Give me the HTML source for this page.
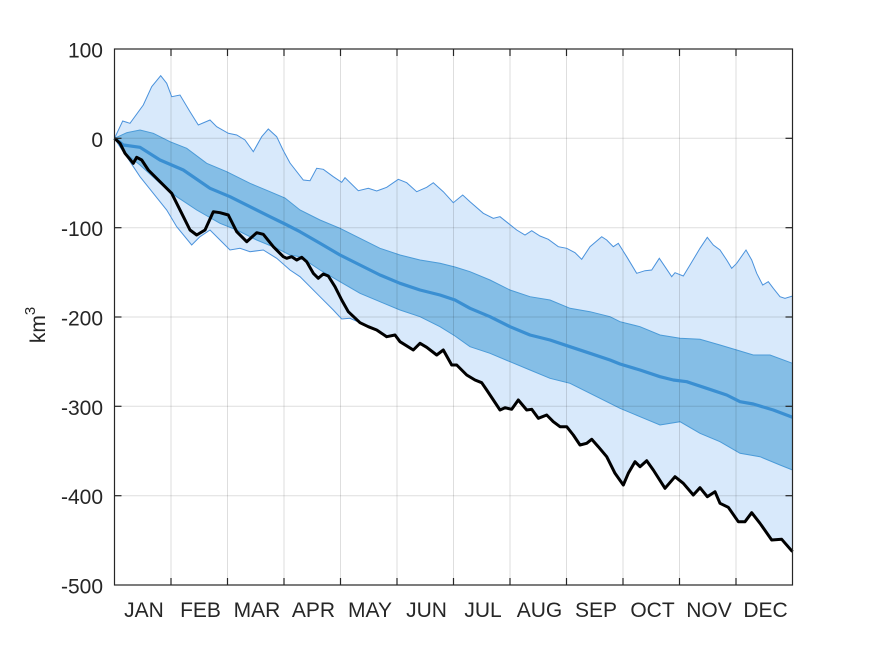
<!DOCTYPE html>
<html><head><meta charset="utf-8"><style>
html,body{margin:0;padding:0;background:#fff;}
svg{display:block;}
text{font-family:"Liberation Sans",Arial,sans-serif;fill:#262626;}
</style></head><body>
<svg width="875" height="656" viewBox="0 0 875 656" xmlns="http://www.w3.org/2000/svg">
<rect x="0" y="0" width="875" height="656" fill="#fff"/>
<!-- light band -->
<polygon fill="#d8e9fb" stroke="none" points="114.5,138.3 122.7,121 130,123.3 143.3,105 151.7,86.7 160.7,75.7 166.7,83.3 171.7,96.7 180,95 190,111.7 198.3,125 210,120 216.7,126.7 228.3,133.3 236.7,135 245,140 253.3,151.7 261.7,136.7 268.3,129 276.7,136.7 283,150 290,163 303.3,180 310,180.7 316.7,168.3 323.3,169.3 333.3,176.7 341.7,182.3 345,177.7 358.3,190.7 368.3,188.3 376.7,191 386.7,187.3 398.3,179.3 406.7,182.7 416.7,191.7 426.7,187.3 433.3,182.7 443.3,191.7 453.3,202.7 462.7,195 470,201.7 483.3,213.3 493.3,218.3 500,216.7 508.3,223.3 516.7,230 525,235 531.7,230.7 540,236 548.3,239.3 558.3,246.7 566.7,248.3 575,252.7 581.7,259.3 590,246.7 601.7,236.7 606.7,240 613.3,246.7 618.3,243.3 626.7,256.7 636.7,273.3 645,270.7 651.7,270 659.3,258.3 665,266.7 671.7,276.7 675,272.7 683.3,276 690,265 700,248.3 707.3,237.3 713.3,245 720,250 726.7,260 731.7,268.3 736.7,263.3 746,250 751.7,260 756.7,273.3 762.7,285 768.3,281.7 773.3,288.3 780,296.7 785,298.3 792.5,296 792.5,551.7 781.7,539.3 771.7,540 760,523.3 751.7,512.7 745,521.7 738.3,521.7 728.3,507.3 720,503.3 715,491.7 707.3,496.7 700,487.7 693.3,495 683.3,483.3 675,476.7 665,488.3 653.3,470 646.7,460.7 640,466.7 635,461.7 628.3,473.3 623.3,485 615,473.3 606.7,456.7 598.3,446.7 591.7,439.3 586.7,443.3 580,445 573.3,435 566.7,426.7 560,426.7 553.3,421.7 546.7,415 538.3,418.3 531.7,409.3 526.7,410 518.3,400 511.7,409.3 505,407.7 500,410 486.7,390 481.7,382.7 475,380 466.7,375 456.7,365 451.7,365 443.3,350 436.7,355 426.7,347.3 420,343.3 413.3,350 400,341.7 395,335 386.7,336.7 376.7,330 368.3,326.7 360,322.7 350,318.3 341.7,319 333.3,310 320,296.7 300,276.7 290,270 276.7,258.3 263.3,250 250,251.7 240,248.3 230,250 220,240 210,230 200,236.7 191.7,245 176.7,226.7 166.7,210 153.3,193.3 140,176.7 126.7,156.7"/>
<!-- dark band -->
<polygon fill="#85bee6" stroke="#4b9bd8" stroke-width="1" points="114.5,138.3 126.7,132.7 140,130 153.3,133.3 170,141.7 186.7,148.3 206.7,163.3 226.7,171.7 250,183.3 270,191.7 285,198 300,210 320,220 340,228.3 360,238.3 380,248.3 400,255 420,260 440,263.3 455,267 470,271.7 490,280 510,290 530,296.7 550,300 570,308.3 590,311.7 610,316.7 620,321.7 640,326.7 660,335 680,338.3 700,339.3 720,345 736.7,350 753.3,355 770,355 792.5,363.3 792.5,470 780,465 760,456.7 740,453.3 720,441.7 700,433.3 680,421.7 660,425 640,416.7 620,408.3 610,403.3 590,393.3 570,383.3 550,378.3 530,370 510,361.7 490,353.3 470,346.7 455,336 440,326.7 420,316.7 400,310 380,301.7 360,293.3 340,281.7 320,270 300,256.7 290,255 276.7,248.3 256.7,240 236.7,230 220,223.3 196.7,210 176.7,196.7 160,183.3 140,165 123.3,151.7"/>
<!-- grid -->
<g stroke="#000" stroke-opacity="0.13" stroke-width="1">
<line x1="171" y1="49" x2="171" y2="585"/><line x1="227.5" y1="49" x2="227.5" y2="585"/><line x1="284" y1="49" x2="284" y2="585"/><line x1="340.5" y1="49" x2="340.5" y2="585"/><line x1="397" y1="49" x2="397" y2="585"/><line x1="453.5" y1="49" x2="453.5" y2="585"/><line x1="510" y1="49" x2="510" y2="585"/><line x1="566.5" y1="49" x2="566.5" y2="585"/><line x1="623" y1="49" x2="623" y2="585"/><line x1="679.5" y1="49" x2="679.5" y2="585"/><line x1="736" y1="49" x2="736" y2="585"/>
<line x1="114.5" y1="138.3" x2="792.5" y2="138.3"/><line x1="114.5" y1="227.7" x2="792.5" y2="227.7"/><line x1="114.5" y1="317" x2="792.5" y2="317"/><line x1="114.5" y1="406.3" x2="792.5" y2="406.3"/><line x1="114.5" y1="495.7" x2="792.5" y2="495.7"/>
</g>
<!-- outer thin lines -->
<polyline fill="none" stroke="#4a92dc" stroke-width="1" points="114.5,138.3 122.7,121 130,123.3 143.3,105 151.7,86.7 160.7,75.7 166.7,83.3 171.7,96.7 180,95 190,111.7 198.3,125 210,120 216.7,126.7 228.3,133.3 236.7,135 245,140 253.3,151.7 261.7,136.7 268.3,129 276.7,136.7 283,150 290,163 303.3,180 310,180.7 316.7,168.3 323.3,169.3 333.3,176.7 341.7,182.3 345,177.7 358.3,190.7 368.3,188.3 376.7,191 386.7,187.3 398.3,179.3 406.7,182.7 416.7,191.7 426.7,187.3 433.3,182.7 443.3,191.7 453.3,202.7 462.7,195 470,201.7 483.3,213.3 493.3,218.3 500,216.7 508.3,223.3 516.7,230 525,235 531.7,230.7 540,236 548.3,239.3 558.3,246.7 566.7,248.3 575,252.7 581.7,259.3 590,246.7 601.7,236.7 606.7,240 613.3,246.7 618.3,243.3 626.7,256.7 636.7,273.3 645,270.7 651.7,270 659.3,258.3 665,266.7 671.7,276.7 675,272.7 683.3,276 690,265 700,248.3 707.3,237.3 713.3,245 720,250 726.7,260 731.7,268.3 736.7,263.3 746,250 751.7,260 756.7,273.3 762.7,285 768.3,281.7 773.3,288.3 780,296.7 785,298.3 792.5,296 792.5,551.7"/>
<polyline fill="none" stroke="#4a92dc" stroke-width="1" points="114.5,138.3 126.7,156.7 140,176.7 153.3,193.3 166.7,210 176.7,226.7 191.7,245 200,236.7 210,230 220,240 230,250 240,248.3 250,251.7 263.3,250 276.7,258.3 290,270 300,276.7 320,296.7 333.3,310 341.7,319 350,318.3 360,322.7"/>
<!-- mean -->
<polyline fill="none" stroke="#3a8fd2" stroke-width="3.2" stroke-linejoin="round" points="114.5,138.3 123.3,145 140,147.3 160,160 183.3,170 210,188.3 230,196.7 250,206.7 270,216.7 285,224 300,231.7 320,243.3 340,255 360,265 380,275 400,283.3 420,290 440,295 455,300 470,308.3 490,316.7 510,326.7 530,335 550,340 570,346.7 590,353.3 610,360 620,364 640,370 660,376.7 673.3,380 686.7,381.7 706.7,388.3 726.7,395 740,401.7 753.3,404 773.3,410 792.5,417.3"/>
<!-- black -->
<polyline fill="none" stroke="#000" stroke-width="3" stroke-linejoin="round" points="114.5,138.3 120,143.3 125,153.3 133.3,163.3 136.7,157.3 141.7,160 148.3,170 160,181.7 171.7,193.3 181.7,213.3 190,230 196.7,235 205,230 213.3,211.7 220,212.7 228.3,215 236.7,231.7 246.7,241.7 256.7,232.7 263.3,234.3 273.3,246.7 283.3,256.7 286.7,258.3 291.7,256.7 296.7,260 301.7,257.3 306.7,261.7 313.3,273.3 318.3,278.3 323.3,274 328.3,276 335,286.7 341.7,300 348.3,311.7 360,322.7 368.3,326.7 376.7,330 386.7,336.7 395,335 400,341.7 413.3,350 420,343.3 426.7,347.3 436.7,355 443.3,350 451.7,365 456.7,365 466.7,375 475,380 481.7,382.7 486.7,390 500,410 505,407.7 511.7,409.3 518.3,400 526.7,410 531.7,409.3 538.3,418.3 546.7,415 553.3,421.7 560,426.7 566.7,426.7 573.3,435 580,445 586.7,443.3 591.7,439.3 598.3,446.7 606.7,456.7 615,473.3 623.3,485 628.3,473.3 635,461.7 640,466.7 646.7,460.7 653.3,470 665,488.3 675,476.7 683.3,483.3 693.3,495 700,487.7 707.3,496.7 715,491.7 720,503.3 728.3,507.3 738.3,521.7 745,521.7 751.7,512.7 760,523.3 771.7,540 781.7,539.3 792.5,551.7"/>
<!-- axes box -->
<rect x="114.5" y="49" width="678" height="536" fill="none" stroke="#262626" stroke-width="1.2"/>
<g stroke="#262626" stroke-width="1.2">
<line x1="171" y1="585" x2="171" y2="578"/><line x1="227.5" y1="585" x2="227.5" y2="578"/><line x1="284" y1="585" x2="284" y2="578"/><line x1="340.5" y1="585" x2="340.5" y2="578"/><line x1="397" y1="585" x2="397" y2="578"/><line x1="453.5" y1="585" x2="453.5" y2="578"/><line x1="510" y1="585" x2="510" y2="578"/><line x1="566.5" y1="585" x2="566.5" y2="578"/><line x1="623" y1="585" x2="623" y2="578"/><line x1="679.5" y1="585" x2="679.5" y2="578"/><line x1="736" y1="585" x2="736" y2="578"/>
<line x1="171" y1="49" x2="171" y2="56"/><line x1="227.5" y1="49" x2="227.5" y2="56"/><line x1="284" y1="49" x2="284" y2="56"/><line x1="340.5" y1="49" x2="340.5" y2="56"/><line x1="397" y1="49" x2="397" y2="56"/><line x1="453.5" y1="49" x2="453.5" y2="56"/><line x1="510" y1="49" x2="510" y2="56"/><line x1="566.5" y1="49" x2="566.5" y2="56"/><line x1="623" y1="49" x2="623" y2="56"/><line x1="679.5" y1="49" x2="679.5" y2="56"/><line x1="736" y1="49" x2="736" y2="56"/>
<line x1="114.5" y1="138.3" x2="121.5" y2="138.3"/><line x1="114.5" y1="227.7" x2="121.5" y2="227.7"/><line x1="114.5" y1="317" x2="121.5" y2="317"/><line x1="114.5" y1="406.3" x2="121.5" y2="406.3"/><line x1="114.5" y1="495.7" x2="121.5" y2="495.7"/>
<line x1="792.5" y1="138.3" x2="785.5" y2="138.3"/><line x1="792.5" y1="227.7" x2="785.5" y2="227.7"/><line x1="792.5" y1="317" x2="785.5" y2="317"/><line x1="792.5" y1="406.3" x2="785.5" y2="406.3"/><line x1="792.5" y1="495.7" x2="785.5" y2="495.7"/>
</g>
<!-- y labels -->
<g font-size="21" text-anchor="end">
<text x="103" y="57.5">100</text>
<text x="103" y="146.8">0</text>
<text x="103" y="236.2">-100</text>
<text x="103" y="325.5">-200</text>
<text x="103" y="414.8">-300</text>
<text x="103" y="504.2">-400</text>
<text x="103" y="593.5">-500</text>
</g>
<!-- x labels -->
<g font-size="21" text-anchor="middle">
<text x="144" y="617">JAN</text>
<text x="200.5" y="617">FEB</text>
<text x="257" y="617">MAR</text>
<text x="313.5" y="617">APR</text>
<text x="370" y="617">MAY</text>
<text x="426.5" y="617">JUN</text>
<text x="483" y="617">JUL</text>
<text x="539.5" y="617">AUG</text>
<text x="596" y="617">SEP</text>
<text x="652.5" y="617">OCT</text>
<text x="709" y="617">NOV</text>
<text x="765.5" y="617">DEC</text>
</g>
<text font-size="21" transform="translate(45,325) rotate(-90)" text-anchor="middle">km<tspan font-size="15" dy="-10">3</tspan></text>
</svg>
</body></html>
